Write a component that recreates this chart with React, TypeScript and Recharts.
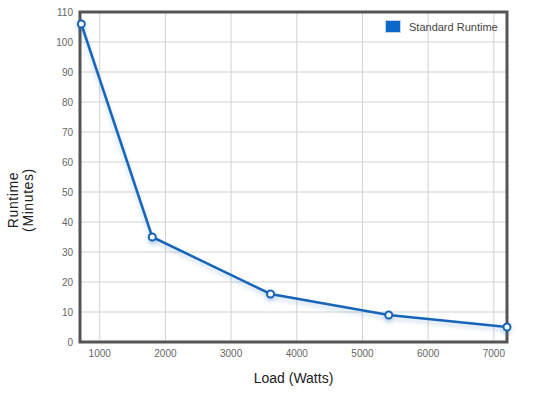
import React from 'react'
import {
  CartesianGrid,
  Line,
  LineChart,
  ReferenceArea,
  XAxis,
  YAxis
} from 'recharts'

const loads = [720, 1800, 3600, 5400, 7200]
const runtimes = [106, 35, 16, 9, 5]
const xTicks = [1000, 2000, 3000, 4000, 5000, 6000, 7000]
const yTicks = [0, 10, 20, 30, 40, 50, 60, 70, 80, 90, 100, 110]
const seriesName = 'Standard Runtime'

const data = loads.map((load, i) => ({ load, runtime: runtimes[i] }))

const lineColor = '#1765b8'
const font = 'Arial, "Liberation Sans", sans-serif'

function LegendBox() {
  return (
    <div
      style={{
        position: 'absolute',
        top: 20,
        left: 385,
        display: 'flex',
        alignItems: 'center',
        fontFamily: font,
        fontSize: 11,
        color: '#444'
      }}
    >
      <span
        style={{
          display: 'inline-block',
          width: 14,
          height: 11,
          background: '#0b67c8',
          border: '1px solid #c8d4e0',
          marginRight: 8
        }}
      />
      {seriesName}
    </div>
  )
}

function YLabel() {
  return (
    <text
      x={22}
      y={200}
      transform="rotate(-90, 22, 200)"
      textAnchor="middle"
      fontFamily={font}
      fontSize={14}
      fill="#222"
      letterSpacing={0.6}
    >
      <tspan x={22} dy={-4}>
        Runtime
      </tspan>
      <tspan x={22} dy={15}>
        (Minutes)
      </tspan>
    </text>
  )
}

export default function App() {
  return (
    <div style={{ position: 'absolute', left: 0, top: 0, width: 552, height: 396 }}>
      <LineChart
        width={552}
        height={396}
        data={data}
        margin={{ top: 12, right: 45, bottom: 0, left: 0 }}
      >
        <CartesianGrid stroke="#d2d2d2" />
        <XAxis
          dataKey="load"
          type="number"
          domain={[700, 7200]}
          ticks={xTicks}
          height={54}
          tickLine={false}
          axisLine={false}
          tick={{ fill: '#666', fontSize: 10, fontFamily: font }}
          tickMargin={2}
          label={{
            value: 'Load (Watts)',
            position: 'insideBottom',
            offset: 13,
            fill: '#222',
            fontSize: 14,
            fontFamily: font
          }}
        />
        <YAxis
          type="number"
          domain={[0, 110]}
          ticks={yTicks}
          width={80}
          tickLine={false}
          axisLine={false}
          interval={0}
          tick={{ fill: '#666', fontSize: 10, fontFamily: font }}
          tickMargin={1}
          label={<YLabel />}
        />
        <ReferenceArea
          x1={700}
          x2={7200}
          y1={0}
          y2={110}
          fill="none"
          stroke="#555"
          strokeWidth={3}
          ifOverflow="visible"
        />
        <Line
          type="linear"
          dataKey="runtime"
          name={seriesName}
          stroke={lineColor}
          strokeWidth={2.5}
          style={{ filter: 'drop-shadow(0px 3px 2px rgba(23,101,184,0.25))' }}
          dot={{ r: 3.5, fill: '#fff', stroke: lineColor, strokeWidth: 2 }}
          isAnimationActive={false}
        />
      </LineChart>
      <LegendBox />
    </div>
  )
}
